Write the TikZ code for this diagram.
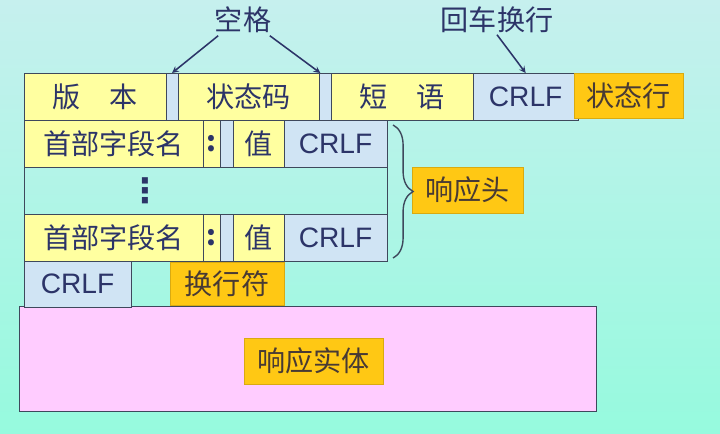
\documentclass[tikz,border=0pt]{standalone}
\usepackage{fontspec}
\setmainfont{Noto Sans CJK SC}
\newfontfamily\latinfont{Liberation Sans}
\newfontfamily\symbolfont{DejaVu Sans}
\usepackage{tikz}
\usetikzlibrary{arrows, positioning, decorations.pathreplacing}
\usepackage{xcolor}
\definecolor{bgtop}{RGB}{198,240,238}
\definecolor{bgbottom}{RGB}{150,250,222}
\definecolor{fieldcolor}{RGB}{255,255,160}
\definecolor{crlfcolor}{RGB}{208,228,244}
\definecolor{tagcolor}{RGB}{255,200,20}
\definecolor{bodycolor}{RGB}{255,204,255}
\definecolor{linecolor}{RGB}{62,72,92}
\definecolor{inkcolor}{RGB}{44,52,104}
\definecolor{tagink}{RGB}{72,58,52}

\begin{document}
\begin{tikzpicture}[
    x=0.025cm, y=-0.025cm,
    cellbox/.style={rectangle, draw=linecolor, line width=0.6pt, inner sep=0pt, outer sep=0pt, minimum height=1.175cm, text=inkcolor, font=\fontsize{20}{24}\selectfont},
    fieldbox/.style={cellbox, fill=fieldcolor},
    crlfbox/.style={cellbox, fill=crlfcolor, font=\fontsize{20}{24}\selectfont\latinfont},
    tagbox/.style={rectangle, fill=tagcolor, draw=tagcolor!85!black, line width=0.4pt, inner sep=0pt, outer sep=0pt, anchor=north west, minimum height=1.15cm, text=tagink, font=\fontsize{20}{24}\selectfont},
    notetext/.style={inner sep=1pt, text=inkcolor, font=\fontsize{20}{24}\selectfont},
    pointer/.style={->, >=stealth, line width=1.1pt, draw=inkcolor}
]

% Background
\useasboundingbox (0,0) rectangle (720,433);
\shade[top color=bgtop, bottom color=bgbottom] (0,0) rectangle (720,433);

% Entity body
\node[rectangle, fill=bodycolor, draw=linecolor, line width=0.6pt, inner sep=0pt, minimum width=14.425cm, minimum height=2.625cm, anchor=north west] (body) at (19,306) {};

% Status line
\node[fieldbox, minimum width=3.55cm, anchor=north west] (version) at (24,73) {版\quad 本};
\node[crlfbox, minimum width=0.3cm, right=0pt of version] (space1) {};
\node[fieldbox, minimum width=3.525cm, right=0pt of space1] (status) {状态码};
\node[crlfbox, minimum width=0.3cm, right=0pt of status] (space2) {};
\node[fieldbox, minimum width=3.55cm, right=0pt of space2] (phrase) {短\quad 语};
\node[crlfbox, minimum width=2.625cm, right=0pt of phrase] (crlf1) {CRLF};
\node[tagbox, minimum width=2.725cm, minimum height=1.125cm] (statusline) at (574,73) {状态行};

% Header lines
\node[fieldbox, minimum width=4.475cm, anchor=north west] (name1) at (24,120) {首部字段名};
\node[fieldbox, minimum width=0.425cm, right=0pt of name1] (colon1) {\textbf{:}};
\node[crlfbox, minimum width=0.325cm, right=0pt of colon1] (space3) {};
\node[fieldbox, minimum width=1.275cm, right=0pt of space3] (value1) {值};
\node[crlfbox, minimum width=2.575cm, right=0pt of value1] (crlf2) {CRLF};

\node[cellbox, minimum width=9.075cm, anchor=north west] (more) at (24,167) {};
\node[inner sep=0pt, text=inkcolor, font=\fontsize{24}{28}\symbolfont\bfseries] (dots) at (145,191) {⋮};

\node[fieldbox, minimum width=4.475cm, anchor=north west] (name2) at (24,214) {首部字段名};
\node[fieldbox, minimum width=0.425cm, right=0pt of name2] (colon2) {\textbf{:}};
\node[crlfbox, minimum width=0.325cm, right=0pt of colon2] (space4) {};
\node[fieldbox, minimum width=1.275cm, right=0pt of space4] (value2) {值};
\node[crlfbox, minimum width=2.575cm, right=0pt of value2] (crlf3) {CRLF};

% Empty line
\node[crlfbox, minimum width=2.675cm, minimum height=1.15cm, anchor=north west] (crlf4) at (24,261) {CRLF};
\node[tagbox, minimum width=2.85cm, minimum height=1.075cm] (newline) at (170,262) {换行符};

% Tags
\node[tagbox, minimum width=2.775cm] (header) at (412,167) {响应头};
\node[tagbox, minimum width=3.475cm] (entity) at (244,338) {响应实体};
\draw[linecolor, line width=1pt, decorate, decoration={brace, amplitude=0.5cm}]
    ([xshift=0.15cm, yshift=-0.125cm]crlf2.north east) -- ([xshift=0.15cm, yshift=0.075cm]crlf3.south east);

% Pointers
\node[notetext] (spacelabel) at (243,20) {空格};
\node[notetext] (crlflabel) at (497,20) {回车换行};
\draw[pointer] ([shift={(5,1)}]spacelabel.south west) -- (space1.north);
\draw[pointer] ([shift={(-3,1)}]spacelabel.south east) -- ([xshift=0.03cm]space2.north west);
\draw[pointer] (crlflabel.south) -- (crlf1.north);

\end{tikzpicture}
\end{document}
